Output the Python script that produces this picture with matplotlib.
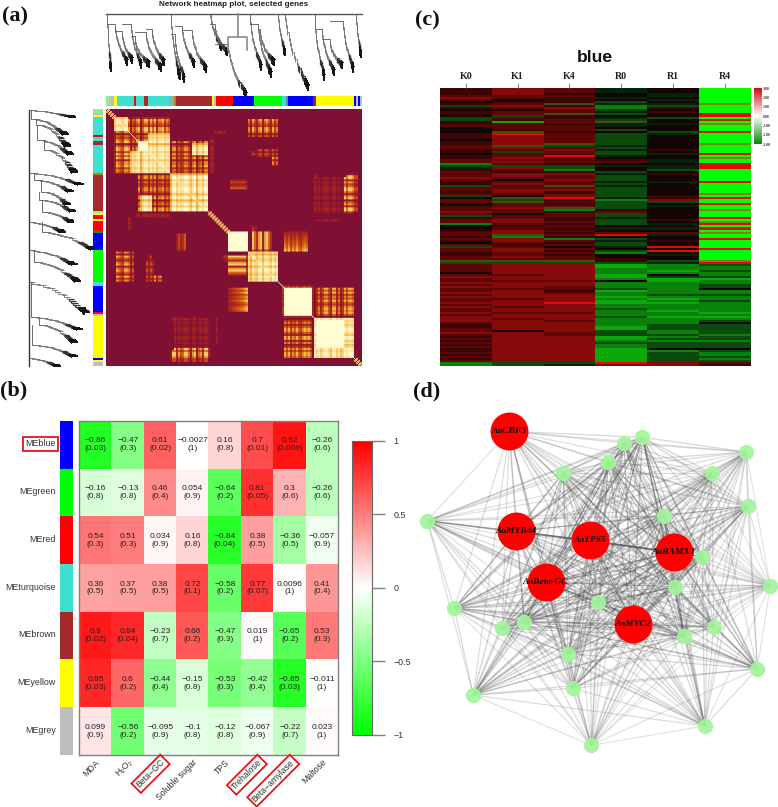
import numpy as np
import matplotlib
matplotlib.use("Agg")
import matplotlib.pyplot as plt
from matplotlib.colors import LinearSegmentedColormap, ListedColormap
from matplotlib.collections import LineCollection

W, H = 778, 807
SANS = ["Liberation Sans", "DejaVu Sans"]
SERIF = ["Liberation Serif", "DejaVu Serif"]

# ---------- panel (b) data
modules = ["MEblue", "MEgreen", "MEred", "MEturquoise", "MEbrown", "MEyellow", "MEgrey"]
module_colors = ["#0000ff", "#00ff00", "#ff0000", "#40e0d0", "#a52a2a", "#ffff00", "#bebebe"]
traits = ["MDA", "H\u2082O\u2082", "Beta\u2212GC", "Soluble sugar", "TPS", "Trehalose", "Beta\u2212amylase", "Maltose"]
boxed_traits = ["Beta\u2212GC", "Trehalose", "Beta\u2212amylase"]
corr = [
    [-0.86, -0.47, 0.61, -0.0027, 0.16, 0.7, 0.92, -0.26],
    [-0.16, -0.13, 0.46, 0.054, -0.64, 0.81, 0.3, -0.26],
    [0.54, 0.51, 0.034, 0.16, -0.84, 0.38, -0.36, -0.057],
    [0.36, 0.37, 0.38, 0.72, -0.58, 0.77, 0.0096, 0.41],
    [0.9, 0.84, -0.23, 0.66, -0.47, 0.019, -0.65, 0.53],
    [0.85, 0.6, -0.44, -0.15, -0.53, -0.42, -0.85, -0.011],
    [0.099, -0.56, -0.095, -0.1, -0.12, -0.067, -0.22, 0.023],
]
pvals = [
    [0.03, 0.3, 0.02, 1, 0.8, 0.01, 0.009, 0.6],
    [0.8, 0.8, 0.4, 0.9, 0.2, 0.05, 0.6, 0.6],
    [0.3, 0.3, 0.9, 0.8, 0.04, 0.5, 0.5, 0.9],
    [0.5, 0.5, 0.5, 0.1, 0.2, 0.07, 1, 0.4],
    [0.02, 0.04, 0.7, 0.2, 0.3, 1, 0.2, 0.3],
    [0.03, 0.2, 0.4, 0.8, 0.3, 0.4, 0.03, 1],
    [0.9, 0.2, 0.9, 0.8, 0.8, 0.9, 0.7, 1],
]
bar_ticks = [1, 0.5, 0, -0.5, -1]

# ---------- panel (c) data: one letter per stripe, one string per sample
samples = ["K0", "K1", "K4", "R0", "R1", "R4"]
stripe_colors = {
    "K": "#140505", "n": "#3c0505", "m": "#5e0606", "r": "#860a0a", "R": "#e00a0a",
    "e": "#05230a", "d": "#0a4a0a", "g": "#0a820a", "h": "#0aa80a", "G": "#00ff00",
    "o": "#4a4a0a", "y": "#808010",
}
col_K0 = "nnnnmrmKnd nKnnKddnnm KKKnnnKnnm mnnKnnmmgd enmmmrmnnd mmnmdKmmKn mmrmdnmmgK KnmmnmnKmd mmnnmmod mmmmKmrmmr mrmmrmrmmr mrmmrmrrrm nnmmrmnmnm nmnnmnmnm gg"
col_K1 = "rrrrmmKnmr mKmmdmnhmm mnoRrrrrro rmdmmrmrmd rmnrrmKmrm mrrmKodomm rmmKmmrrmn mrrogrrmnm rrmmrmod rrrrrmrrmr rrmrrrrmrr rmrrmrrmrr rrrKrrrrrr rrrrrrrrr dd"
col_K4 = "mmmnmnnnon rmmonnmmnm mmnmmmmmod mrmmRnmmnd dgnrmmrmmo mrnmrRnmnm ognmmnnmnm nmnmngmnmK mnmnmmod rrrrrrrrmr rmmnmrrrrR rrrrmrrrmr rrrrmmrrrr rrrrrrrrr de"
col_R0 = "eeeKKeKdeg gdedKedoee KdKdddddde deddeKnmKe KKdedddede dddddegddd dnmddedddK eKmRKdedde KdgKKnnd hhggghhgKg ggdhgghghh ggdgggdggg ghhdddhhgd gghhhhhhh Rr"
col_R1 = "KKKeeKeKed nKnKKdKKeK KKdeKKKKKK KnKeKKeeKe edKnKKKeKK KKKKnnrdKe KKKKKKnKeK eKmeKKnKKR KRKeKKde ggghgKdhhg gggggdghgh ggghgghggg dddggdgdgd ddKgddddd rr"
col_R4 = "GGGGGGGGyG GGGRRGRGyG GGRGGGGGyG GGGRGyGGRR RGGGGGGRGG GGGyGRGGRG GyGGGRGyRG RGyGGRGGGG RGGGGGyR dggdggdhgg ddKggdggdg gggghghgdK dddddgddgd ddKdggdgd mn"
scale_ticks = [3, 2, 1, 0, -1, -2, -3]

# ---------- panel (a) data: 128 ordered gene bins
bin_texture = ("5555598769" "9847689379" "9697958896" "8739958679" "9748937859" "9566656646"
               "6999999999" "6849758948" "9759685569" "7968797689" "8975968579" "9749958469"
               "79986666")
blue_fade = [.3, .35, .4, .45, .5, .55, .6, .65, .75, .85]
# first bin, last bin, first bin, last bin, level, mode (0 plaid, 1 flat, 2 soft plaid, 3 faded)
blocks = [
    (4, 32, 4, 32, .85, 0), (4, 11, 4, 11, .98, 2), (16, 21, 16, 21, 1, 1), (21, 32, 21, 32, 1, 2),
    (12, 32, 21, 32, .98, 2), (32, 51, 32, 51, 1, 2), (33, 41, 33, 41, 1, 2), (43, 50, 43, 50, 1, 2),
    (61, 71, 61, 71, 1, 1), (71, 86, 71, 86, .95, 2), (75, 86, 75, 86, 1, 2), (88, 104, 88, 104, .8, 0),
    (89, 103, 89, 103, 1, 1), (104, 124, 104, 124, .97, 2), (105, 119, 105, 119, 1, 1), (119, 124, 119, 124, .98, 2),
    (32, 51, 16, 32, .7, 0), (43, 51, 17, 23, .98, 2), (43, 51, 24, 32, .8, 0), (52, 54, 15, 32, .55, 0),
    (71, 86, 7, 14, .8, 0), (83, 86, 21, 28, .8, 0), (72, 78, 21, 23, .45, 0), (54, 60, 11, 13, .7, 0),
    (71, 86, 5, 12, .8, 0), (75, 86, 20, 24, .5, 0), (35, 40, 62, 71, .5, 0), (61, 71, 73, 83, .85, 0),
    (61, 71, 89, 101, 1, 3), (72, 76, 58, 61, .7, 0), (89, 103, 105, 124, .8, 0), (119, 124, 34, 52, .9, 0),
    (104, 119, 34, 52, .28, 0), (104, 118, 55, 56, .6, 0), (32, 51, 120, 126, .85, 0), (32, 51, 104, 106, .3, 0),
]
top_strip_sizes = [2, 2, 2, 9, 1, 4, 2, 2, 9, 3, 1, 19, 1, 1, 3, 6, 1, 10, 15, 2, 1, 13, 2, 20, 1, 1, 1, 1]
top_strip_cols = ["#90ee90", "#bebebe", "#ffff00", "#40e0d0", "#ff0000", "#40e0d0", "#a52a2a", "#40e0d0", "#40e0d0",
                  "#7fb8b0", "#b8860b", "#a52a2a", "#ffff00", "#bebebe", "#ff0000", "#ff0000", "#0000ff", "#0000ff",
                  "#00ff00", "#40e0d0", "#6a8aa0", "#0000ff", "#8a2060", "#ffff00", "#0000ff", "#bebebe", "#0000ff", "#bebebe"]
left_strip_sizes = [2, 1, 1, 9, 1, 2, 2, 2, 12, 1, 18, 1, 1, 2, 1, 5, 1, 9, 16, 2, 13, 1, 1, 21, 1, 1, 2]
left_strip_cols = ["#90ee90", "#bebebe", "#ffff00", "#40e0d0", "#ff0000", "#40e0d0", "#a52a2a", "#40e0d0", "#40e0d0",
                   "#b8860b", "#a52a2a", "#90ee90", "#ffff00", "#ff0000", "#ffff00", "#ff0000", "#228b22", "#0000ff",
                   "#00ff00", "#40e0d0", "#0000ff", "#ff0000", "#bebebe", "#ffff00", "#0000ff", "#ffff00", "#bebebe"]
# branches of the dendrograms: start, end, first height, last height (pixels)
top_branches = [(107, 111, 15, 67), (115, 128, 30, 60), (122, 133, 37, 58), (131, 142, 30, 63), (135, 150, 42, 62),
                (146, 162, 38, 66), (152, 165, 35, 60), (171, 180, 20, 75), (175, 185, 40, 77), (182, 195, 32, 62),
                (192, 207, 36, 67), (210, 222, 15, 45), (215, 228, 30, 50), (228, 247, 50, 93), (250, 262, 22, 65),
                (258, 272, 30, 72), (260, 275, 35, 60), (278, 285, 15, 50), (285, 309, 18, 86), (315, 325, 25, 75),
                (322, 335, 35, 70), (330, 343, 45, 63), (343, 354, 27, 67), (356, 361, 14, 52)]
left_branches = [(110, 117, 30, 70), (119, 135, 37, 63), (125, 147, 42, 65), (140, 155, 43, 68), (150, 173, 50, 72),
                 (173, 185, 35, 78), (180, 192, 40, 68), (192, 205, 47, 65), (200, 212, 45, 70), (212, 222, 48, 68),
                 (222, 232, 33, 60), (232, 250, 48, 91), (250, 265, 33, 72), (262, 282, 40, 75), (282, 314, 32, 85),
                 (317, 330, 37, 77), (325, 343, 45, 72), (345, 357, 38, 72), (358, 366, 30, 55)]
step_x = [0, .05, .1, .15, .2, .25, .3, .36, .42, .48, .54, .6, .66, .72, .77, .82, .87, .91, .95, 1]
step_y = [0, .1, .2, .29, .37, .44, .5, .56, .61, .66, .7, .74, .78, .82, .85, .88, .91, .94, .97, 1]

# ---------- panel (d) data
node_x = [509.3, 516.3, 589.7, 673.7, 545.7, 632.7,
          427.3, 454.3, 473.3, 502, 524.3, 563, 608.3, 624, 642.3, 711.7, 746.3, 747.7, 663.7, 702.3,
          770.3, 674.7, 598.3, 713.7, 683.7, 568, 572.7, 757.3, 704.7, 591.3]
node_y = [431.3, 531.3, 540.3, 552, 582.3, 623.7,
          520.7, 608.3, 695, 628.3, 621.7, 473.3, 461.7, 443, 437.3, 473.3, 452, 506.3, 516, 556.7,
          585.7, 586.7, 602.3, 627, 636.3, 653.7, 688.3, 668.7, 726, 745.3]
node_label = ["AaCBF3", "AaMYB44", "AaTPS5", "AaBAM3.1", "AaBeta-GC", "AaMYC2"] + [""] * 24
node_weight = [.5, .85, 1, 1, .95, .95,
               .5, .65, .6, .6, .8, .7, .75, .7, .85, .55, .5, .6, .75, .8, .4, .9, .8, .6, .8, .7, .6, .6, .55, .4]


def axpx(x0, y0, x1, y1, **kw):
    return fig.add_axes([x0 / W, 1 - y1 / H, (x1 - x0) / W, (y1 - y0) / H], **kw)


fig = plt.figure(figsize=(W / 100, H / 100), dpi=100)
overlay = axpx(0, 0, W, H)
overlay.set_xlim(0, W)
overlay.set_ylim(H, 0)
overlay.axis("off")

# ---- panel letters
for s, x, y in [("(a)", 2, 16), ("(b)", 0, 390), ("(c)", 415, 20), ("(d)", 413, 391)]:
    overlay.text(x, y, s, family=SERIF, weight="bold", fontsize=16, ha="left", va="center", color="#111111")

# ---- panel (a)
overlay.text(234, 4, "Network heatmap plot, selected genes", family=SANS, weight="bold", fontsize=5.9,
             ha="center", va="center", color="#222222")
n = len(bin_texture)
tex = np.array([int(c) / 9 for c in bin_texture])
tom = np.zeros((n, n))
for a0, a1, b0, b1, lev, mode in blocks:
    if mode == 1:
        patch = np.full((a1 - a0, b1 - b0), float(lev))
    elif mode == 2:
        patch = lev * np.outer(tex[a0:a1] ** .2, tex[b0:b1] ** .2)
    elif mode == 3:
        patch = lev * np.outer(np.array(blue_fade), tex[b0:b1] ** 1.2)
    else:
        patch = lev * np.outer(tex[a0:a1] ** 1.6, tex[b0:b1] ** 1.6)
    tom[a0:a1, b0:b1] = patch
    tom[b0:b1, a0:a1] = patch.T
for i in range(n - 1):
    if 51 <= i < 61 or i < 4 or i >= 124:
        tom[i, i + 1] = tom[i + 1, i] = .75
fine = np.repeat(np.repeat(tom, 2, axis=0), 2, axis=1)
np.fill_diagonal(fine, 1)
tom_cmap = LinearSegmentedColormap.from_list("tom", [(0, "#7f1034"), (.3, "#a8261f"), (.55, "#d9620f"),
                                                     (.8, "#f7b84a"), (1, "#fffcd2")])
ax = axpx(106, 109, 362, 366)
ax.imshow(fine, cmap=tom_cmap, vmin=0, vmax=1, aspect="auto", interpolation="bilinear")
ax.axis("off")

ax = axpx(106, 96, 362, 106)
ax.barh([0] * len(top_strip_sizes), top_strip_sizes, left=np.cumsum([0] + top_strip_sizes[:-1]),
        height=1, color=top_strip_cols)
ax.set_xlim(0, sum(top_strip_sizes))
ax.set_ylim(-.5, .5)
ax.axis("off")

ax = axpx(92.7, 109, 102.7, 366)
ax.bar([0] * len(left_strip_sizes), left_strip_sizes, bottom=np.cumsum([0] + left_strip_sizes[:-1]),
       width=1, color=left_strip_cols)
ax.set_ylim(sum(left_strip_sizes), 0)
ax.set_xlim(-.5, .5)
ax.axis("off")


def comb(a0, a1, h0, h1, horizontal=True):
    groups = {0: [], 1: [], 2: []}
    for k in range(len(step_x) - 1):
        a = a0 + (a1 - a0) * step_x[k]
        a2 = a0 + (a1 - a0) * step_x[k + 1]
        h = h0 + (h1 - h0) * step_y[k]
        h2 = h0 + (h1 - h0) * step_y[k + 1]
        tier = 2 if k >= 15 else 1 if k >= 10 else 0
        leaf = 3 + 2 * tier
        groups[tier].extend([[(a, h), (a2, h)], [(a2, h), (a2, h2)], [(a, h), (a, h + leaf)]])
    for tier, col, lw in [(0, "#6a6a6a", .6), (1, "#333333", .9), (2, "#141414", 1.4)]:
        seg = groups[tier]
        if not horizontal:
            seg = [[(y, x) for x, y in s] for s in seg]
        overlay.add_collection(LineCollection(seg, colors=col, linewidths=lw))


overlay.plot([106, 362], [13.5, 13.5], color="#555555", lw=1)
prev = None
for b in top_branches:
    if b[2] <= 25 or prev is None:
        overlay.plot([b[0], b[0]], [13.5, b[2]], color="#555555", lw=.6)
    else:
        overlay.plot([prev, b[0], b[0]], [b[2] - 6, b[2] - 6, b[2]], color="#555555", lw=.6)
    prev = b[0]
    comb(*b)
overlay.plot([238, 238], [13.5, 37], color="#8a8a8a", lw=1.2)
overlay.plot([228, 228, 247, 247], [50, 37, 37, 50], color="#8a8a8a", lw=1.2)
overlay.plot([29.5, 29.5], [110, 366], color="#333333", lw=1)
prev = None
for b in left_branches:
    if b[2] <= 35 or prev is None:
        overlay.plot([29.5, b[2]], [b[0], b[0]], color="#555555", lw=.6)
    else:
        overlay.plot([b[2] - 6, b[2] - 6, b[2]], [prev, b[0], b[0]], color="#555555", lw=.6)
    prev = b[0]
    comb(*b, horizontal=False)

# ---- panel (b)
gwr = LinearSegmentedColormap.from_list("gwr", ["#00ff00", "#ffffff", "#ff0000"])
ax = axpx(79.3, 421, 338.3, 755)
ax.imshow(np.array(corr), cmap=gwr, vmin=-1, vmax=1, aspect="auto", interpolation="nearest")
for r, row in enumerate(corr):
    for c, v in enumerate(row):
        ax.text(c, r, ("%g\n(%g)" % (v, pvals[r][c])).replace("-", "\u2212"), family=SANS, fontsize=6,
                ha="center", va="center", linespacing=1.18, color="#222222")
ax.set_yticks([])
ax.set_xticks(range(len(traits)))
ax.set_xticklabels([])
ax.tick_params(length=0)
for s in ax.spines.values():
    s.set_color("#808080")
    s.set_linewidth(1)
for c, t in enumerate(traits):
    kw = {}
    if t in boxed_traits:
        kw["bbox"] = dict(facecolor="none", edgecolor="#e8141c", linewidth=1.3, boxstyle="square,pad=0.25")
    ax.annotate(t, xy=(c, 0), xycoords=ax.get_xaxis_transform(), xytext=(0, -2), textcoords="offset points",
                family=SANS, fontsize=6.3, rotation=45, ha="right", va="top", rotation_mode="anchor",
                color="#333333", **kw)

ax = axpx(60.3, 421, 73, 755)
ax.imshow(np.arange(len(modules)).reshape(-1, 1), cmap=ListedColormap(module_colors), aspect="auto",
          interpolation="nearest")
ax.axis("off")
row_h = (755 - 421) / len(modules)
for r, m in enumerate(modules):
    kw = {}
    if m == "MEblue":
        kw["bbox"] = dict(facecolor="none", edgecolor="#e8141c", linewidth=1.3, boxstyle="square,pad=0.25")
    overlay.text(56, 421 + row_h * (r + .5) - 1, m, family=SANS, fontsize=6.4, ha="right", va="center",
                 color="#333333", **kw)

ax = axpx(352.3, 441, 371.7, 734.7)
ax.imshow(np.linspace(1, -1, 101).reshape(-1, 1), cmap=gwr, vmin=-1, vmax=1, aspect="auto",
          extent=(0, 1, -1, 1))
ax.set_xticks([])
ax.yaxis.tick_right()
ax.set_yticks(bar_ticks)
ax.set_yticklabels([("%g" % t).replace("-", "\u2212") for t in bar_ticks], family=SANS, fontsize=6.4, color="#333333")
ax.tick_params(axis="y", length=9.5, width=1, color="#808080", pad=6)
for s in ax.spines.values():
    s.set_color("#666666")

# ---- panel (c)
keys = list(stripe_colors)
columns = [col_K0, col_K1, col_K4, col_R0, col_R1, col_R4]
columns = [c.replace(" ", "") for c in columns]
mat = np.array([[keys.index(ch) for ch in c] for c in columns]).T
ax = axpx(440, 87.7, 750.7, 365.7)
ax.imshow(mat, cmap=ListedColormap([stripe_colors[k] for k in keys]), vmin=-.5, vmax=len(keys) - .5,
          aspect="auto", interpolation="nearest")
ax.set_yticks([])
ax.xaxis.tick_top()
ax.set_xticks(range(len(samples)))
ax.set_xticklabels(samples, family=SERIF, weight="bold", fontsize=7.2, color="#222222")
ax.tick_params(axis="x", length=3.5, width=.7, color="#808080", pad=1.5)
for s in ax.spines.values():
    s.set_visible(False)
overlay.text(595, 58, "blue", family=SANS, weight="bold", fontsize=12.6, ha="center", va="center", color="#111111")

ax = axpx(754.3, 88, 761.7, 144)
ax.imshow(np.linspace(3, -3, 61).reshape(-1, 1), aspect="auto", extent=(0, 1, -3, 3), vmin=-3, vmax=3,
          cmap=LinearSegmentedColormap.from_list("s", ["#0a8a0a", "#ffffff", "#d01010"]))
ax.set_xticks([])
ax.yaxis.tick_right()
ax.set_yticks(scale_ticks)
ax.set_yticklabels(["%.2f" % t for t in scale_ticks], family=SERIF, weight="bold", fontsize=2.8, color="#333333")
ax.tick_params(axis="y", length=0, pad=1)
for s in ax.spines.values():
    s.set_visible(False)

# ---- panel (d)
segs, alph = [], []
for i in range(len(node_x)):
    for j in range(i + 1, len(node_x)):
        segs.append([(node_x[i], node_y[i]), (node_x[j], node_y[j])])
        alph.append(.08 + .34 * node_weight[i] * node_weight[j])
overlay.add_collection(LineCollection(segs, colors=[(.3, .3, .3, a) for a in alph], linewidths=.9, zorder=2))
nx, ny = np.array(node_x), np.array(node_y)
hub = np.array([bool(s) for s in node_label])
overlay.scatter(nx[~hub], ny[~hub], s=122, color="#a4f59c", linewidths=0, alpha=.93, zorder=3)
overlay.scatter(nx[hub], ny[hub], s=745, color="#ff0000", linewidths=0, zorder=4)
for x, y, s in zip(node_x, node_y, node_label):
    if s:
        overlay.text(x, y, s, family=SERIF, weight="bold", style="italic", fontsize=6.8, ha="center", va="center",
                     color="#111111", zorder=5)

fig.savefig("out.png", dpi=100)
